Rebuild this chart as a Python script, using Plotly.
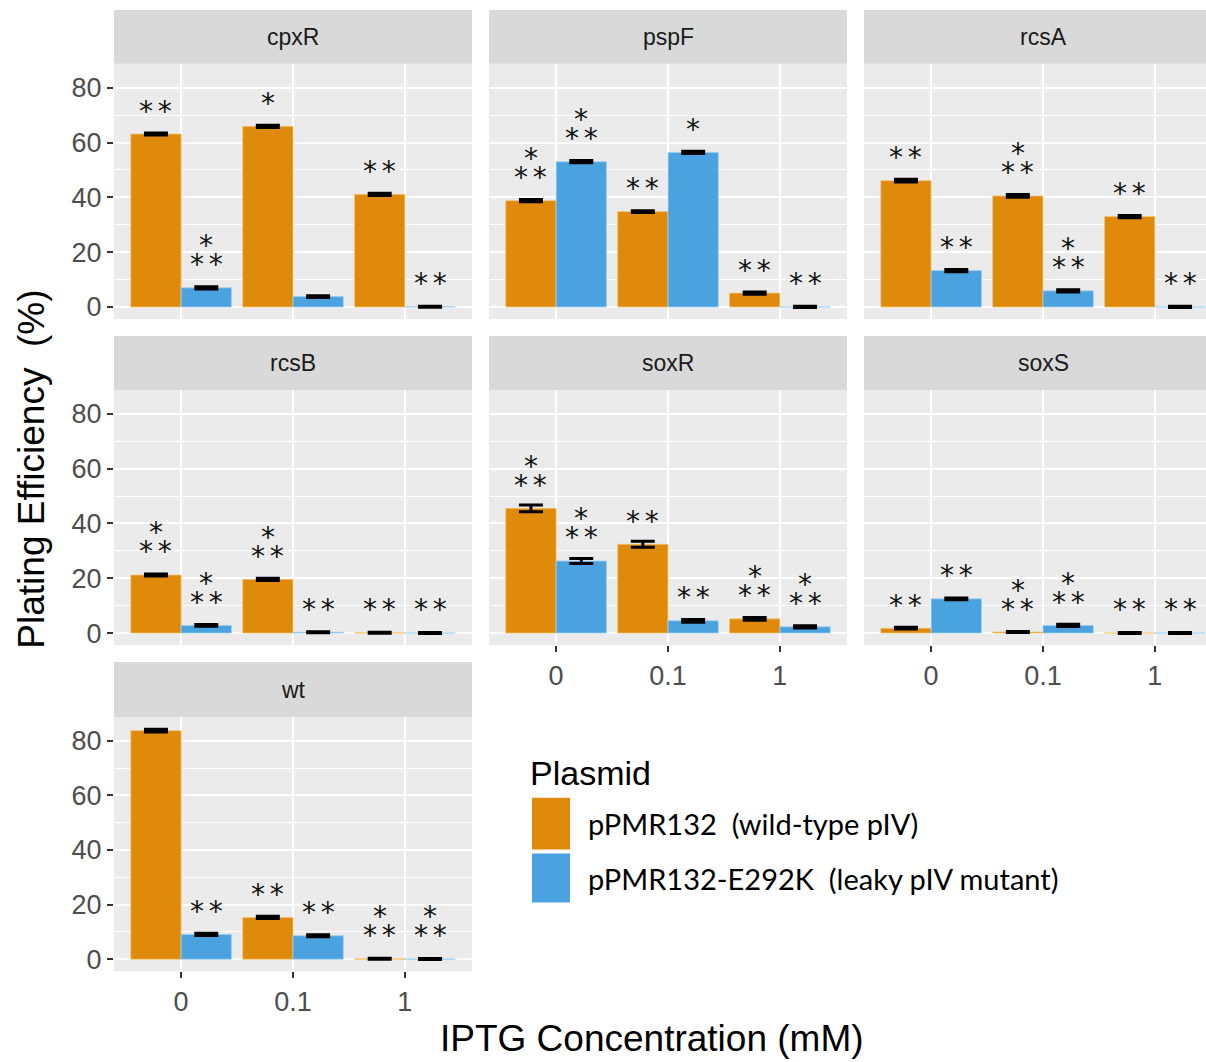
import plotly.graph_objects as go

# ---------------- data ----------------
genes = ["cpxR", "pspF", "rcsA", "rcsB", "soxR", "soxS", "wt"]
iptg = ["0", "0.1", "1"]
series_names = ["pPMR132  (wild-type pIV)", "pPMR132-E292K  (leaky pIV mutant)"]

wildtype_mean = {
    "cpxR": [63.1, 65.9, 41.1],
    "pspF": [38.8, 34.8, 5.1],
    "rcsA": [46.1, 40.5, 33.0],
    "rcsB": [21.2, 19.6, 0.15],
    "soxR": [45.5, 32.4, 5.2],
    "soxS": [1.8, 0.4, 0.05],
    "wt":   [83.7, 15.3, 0.2],
}
wildtype_err = {
    "cpxR": [0.4, 0.4, 0.4],
    "pspF": [0.4, 0.3, 0.4],
    "rcsA": [0.5, 0.5, 0.4],
    "rcsB": [0.4, 0.4, 0.2],
    "soxR": [1.2, 1.1, 0.5],
    "soxS": [0.3, 0.2, 0.2],
    "wt":   [0.5, 0.4, 0.2],
}
mutant_mean = {
    "cpxR": [7.0, 3.8, 0.1],
    "pspF": [53.0, 56.4, 0.05],
    "rcsA": [13.3, 5.9, 0.05],
    "rcsB": [2.8, 0.3, 0.05],
    "soxR": [26.3, 4.5, 2.3],
    "soxS": [12.5, 2.8, 0.05],
    "wt":   [9.1, 8.6, 0.1],
}
mutant_err = {
    "cpxR": [0.4, 0.3, 0.2],
    "pspF": [0.4, 0.4, 0.2],
    "rcsA": [0.4, 0.4, 0.2],
    "rcsB": [0.3, 0.2, 0.2],
    "soxR": [0.9, 0.5, 0.4],
    "soxS": [0.3, 0.4, 0.2],
    "wt":   [0.4, 0.4, 0.2],
}
wildtype_sig = {
    "cpxR": ["**", "*", "**"],
    "pspF": ["*\n**", "**", "**"],
    "rcsA": ["**", "*\n**", "**"],
    "rcsB": ["*\n**", "*\n**", "**"],
    "soxR": ["*\n**", "**", "*\n**"],
    "soxS": ["**", "*\n**", "**"],
    "wt":   ["", "**", "*\n**"],
}
mutant_sig = {
    "cpxR": ["*\n**", "", "**"],
    "pspF": ["*\n**", "*", "**"],
    "rcsA": ["**", "*\n**", "**"],
    "rcsB": ["*\n**", "**", "**"],
    "soxR": ["*\n**", "**", "*\n**"],
    "soxS": ["**", "*\n**", "**"],
    "wt":   ["**", "**", "*\n**"],
}
y_ticks = [0, 20, 40, 60, 80]

# ---------------- styling / layout ----------------
W, H = 1206, 1062
ORANGE = "#E08A0B"
BLUE = "#4AA3DF"
ORANGE_EDGE = "#F3C874"
BLUE_EDGE = "#9FD0F2"

col_left = [114, 489, 864]
col_right = [472, 847, 1206]
row_top = [64, 391, 719]      # plot-area top (px from top)
row_bot = [320, 647, 974]     # plot-area bottom
strip_top = [10, 337, 664]

positions = {"cpxR": (0, 0), "pspF": (0, 1), "rcsA": (0, 2),
             "rcsB": (1, 0), "soxR": (1, 1), "soxS": (1, 2), "wt": (2, 0)}
bottom_panels = {"wt", "soxR", "soxS"}
left_panels = {"cpxR", "rcsB", "wt"}

PX_PER_CAT = 358 / 3.2
DODGE = 0.225

fig = go.Figure()
layout = dict(
    width=W, height=H,
    margin=dict(l=0, r=0, t=0, b=0),
    paper_bgcolor="white", plot_bgcolor="#EBEBEB",
    barmode="group", bargap=0.1, bargroupgap=0.0,
    showlegend=False,
    font=dict(family="Liberation Sans, Arial, sans-serif", color="#4D4D4D"),
)
shapes = []
annotations = []

STAR_FONT = dict(family="DejaVu Sans, sans-serif", size=28, color="#111111")
LOW_SHIFT = 23
HIGH_SHIFT = 42

for i, g in enumerate(genes, start=1):
    r, c = positions[g]
    xa = "x" if i == 1 else f"x{i}"
    ya = "y" if i == 1 else f"y{i}"
    xkey = "xaxis" if i == 1 else f"xaxis{i}"
    ykey = "yaxis" if i == 1 else f"yaxis{i}"

    fig.add_trace(go.Bar(
        x=iptg, y=wildtype_mean[g], name=series_names[0], xaxis=xa, yaxis=ya,
        marker=dict(color=ORANGE, line=dict(color=ORANGE_EDGE, width=0.8)),
        error_y=dict(type="data", array=wildtype_err[g], color="black", thickness=3, width=12),
        offsetgroup="a",
    ))
    fig.add_trace(go.Bar(
        x=iptg, y=mutant_mean[g], name=series_names[1], xaxis=xa, yaxis=ya,
        marker=dict(color=BLUE, line=dict(color=BLUE_EDGE, width=0.8)),
        error_y=dict(type="data", array=mutant_err[g], color="black", thickness=3, width=12),
        offsetgroup="b",
    ))

    x0p, x1p = col_left[c] / W, col_right[c] / W
    y0p, y1p = 1 - row_bot[r] / H, 1 - row_top[r] / H
    xmax = 2.6 if c < 2 else 2.6 - (1222 - 1206) / PX_PER_CAT
    show_x = g in bottom_panels
    show_y = g in left_panels
    layout[xkey] = dict(
        domain=[x0p, x1p], anchor=ya, type="category", range=[-0.6, xmax],
        showgrid=True, gridcolor="white", gridwidth=2.2,
        showticklabels=show_x, ticks="outside" if show_x else "",
        ticklen=6, tickwidth=2, tickcolor="#333333",
        tickfont=dict(size=27, color="#4D4D4D"), zeroline=False, showline=False,
        fixedrange=True,
    )
    layout[ykey] = dict(
        domain=[y0p, y1p], anchor=xa, range=[-4.4, 88.7],
        tickvals=y_ticks, showgrid=True, gridcolor="white", gridwidth=2.2,
        minor=dict(dtick=10, tick0=0, showgrid=True, gridcolor="white", gridwidth=1),
        showticklabels=show_y, ticks="outside" if show_y else "",
        ticklen=6, tickwidth=2, tickcolor="#333333",
        tickfont=dict(size=27, color="#4D4D4D"), zeroline=False, showline=False,
        fixedrange=True,
    )

    # facet strip
    shapes.append(dict(type="rect", xref="paper", yref="paper",
                       x0=x0p, x1=x1p, y0=1 - row_top[r] / H, y1=1 - strip_top[r] / H,
                       fillcolor="#D9D9D9", line=dict(width=0), layer="below"))
    annotations.append(dict(text=g, xref="paper", yref="paper",
                            x=(col_left[c] + (col_left[c] + 358)) / 2 / W,
                            y=1 - (strip_top[r] + row_top[r]) / 2 / H,
                            showarrow=False, xanchor="center", yanchor="middle",
                            font=dict(size=23, color="#1A1A1A")))

    # significance stars
    for sig_map, mean_map, off in ((wildtype_sig, wildtype_mean, -DODGE),
                                   (mutant_sig, mutant_mean, DODGE)):
        for k in range(len(iptg)):
            lab = sig_map[g][k]
            if not lab:
                continue
            lines = lab.split("\n")
            shifts = [LOW_SHIFT] if len(lines) == 1 else [HIGH_SHIFT, LOW_SHIFT]
            for ln, sh in zip(lines, shifts):
                annotations.append(dict(
                    text=ln.replace("**", "*\u2006*"), xref=xa, yref=ya,
                    x=k + off, y=mean_map[g][k], yshift=sh,
                    showarrow=False, xanchor="center", yanchor="middle",
                    font=STAR_FONT))

# axis titles
annotations.append(dict(text="Plating Efficiency\u00a0\u00a0(%)", xref="paper", yref="paper",
                        x=32 / W, y=1 - 471 / H, textangle=-90, showarrow=False,
                        xanchor="center", yanchor="middle",
                        font=dict(size=37, color="black")))
annotations.append(dict(text="IPTG Concentration (mM)", xref="paper", yref="paper",
                        x=652 / W, y=1 - 1041 / H, showarrow=False,
                        xanchor="center", yanchor="middle",
                        font=dict(size=37, color="black")))

# legend (drawn manually to reproduce large keys)
annotations.append(dict(text="Plasmid", xref="paper", yref="paper",
                        x=528 / W, y=1 - 775 / H, showarrow=False,
                        xanchor="left", yanchor="middle",
                        font=dict(size=34, color="black")))
key_rows = [(800, 852, ORANGE), (856, 905, BLUE)]
for (ky0, ky1, col), name in zip(key_rows, series_names):
    shapes.append(dict(type="rect", xref="paper", yref="paper",
                       x0=532 / W, x1=570 / W, y0=1 - ky1 / H, y1=1 - ky0 / H,
                       fillcolor=col, line=dict(width=0)))
    annotations.append(dict(text=name.replace("  ", "\u00a0 "), xref="paper", yref="paper",
                            x=586 / W, y=1 - (ky0 + ky1) / 2 / H, showarrow=False,
                            xanchor="left", yanchor="middle",
                            font=dict(family="Lato, Open Sans, sans-serif", size=29, color="black")))

layout["shapes"] = shapes
layout["annotations"] = annotations
fig.update_layout(**layout)
fig.write_html("out.html",
               config={"displayModeBar": False},
               post_script="document.body.style.margin='0';document.body.style.overflow='hidden';")
